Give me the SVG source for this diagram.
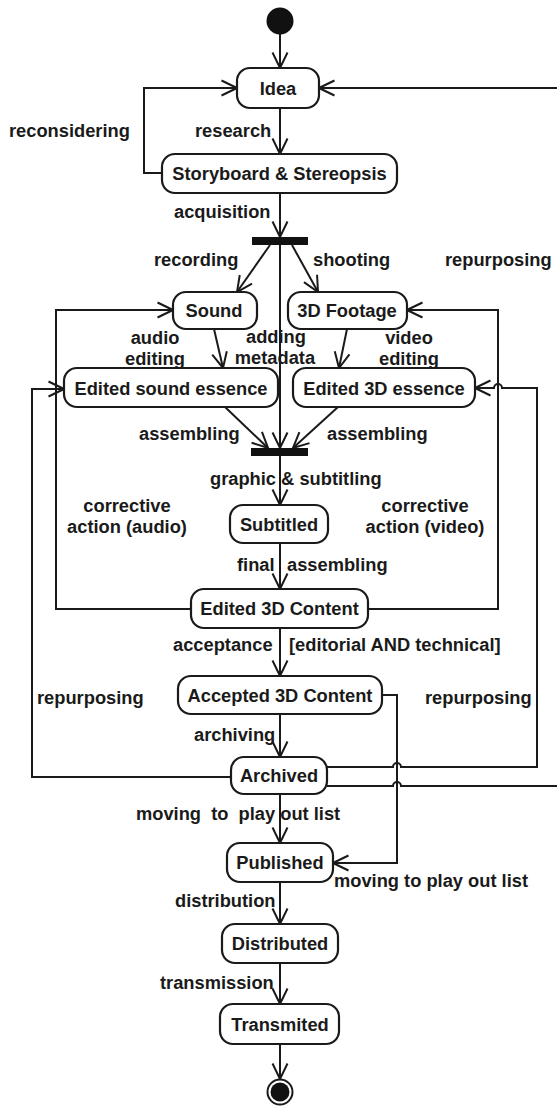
<svg xmlns="http://www.w3.org/2000/svg" width="557" height="1106" viewBox="0 0 557 1106">
  <style>
    .box { fill: #ffffff; stroke: #1a1a1a; stroke-width: 2.2; }
    .bar { fill: #111111; }
    .edge { fill: none; stroke: #1a1a1a; stroke-width: 2; marker-end: url(#open); }
    text { font-family: "Liberation Sans", Arial, sans-serif; font-weight: bold; font-size: 18.3px; fill: #1a1a1a; }
    .name { text-anchor: middle; }
    .mid { text-anchor: middle; }
    .pre { white-space: pre; }
  </style>
  <defs>
    <marker id="open" viewBox="0 0 18 18" refX="16.5" refY="9" markerWidth="18" markerHeight="18" markerUnits="userSpaceOnUse" orient="auto">
      <path d="M1,1.5 L16.5,9 L1,16.5" fill="none" stroke="#1a1a1a" stroke-width="2"/>
    </marker>
  </defs>
  <rect width="557" height="1106" fill="#ffffff"/>

  <!-- transitions -->
  <g id="connectors">
    <path class="edge" d="M280,34 V68"/>
    <path class="edge" d="M280,108 V154"/>
    <path class="edge" d="M162,173 H144 V88 H237"/>
    <path class="edge" d="M280,193 V237"/>
    <path class="edge" d="M270,245 L237,292"/>
    <path class="edge" d="M292,245 L318,292"/>
    <path class="edge" d="M280,245 V448"/>
    <path class="edge" d="M214,329 L223,368"/>
    <path class="edge" d="M347,329 L339,368"/>
    <path class="edge" d="M225,407 L268,448"/>
    <path class="edge" d="M338,407 L293,448"/>
    <path class="edge" d="M280,456 V505"/>
    <path class="edge" d="M280,543 V589"/>
    <path class="edge" d="M191,609 H56 V310 H173"/>
    <path class="edge" d="M368,609 H498 V310 H407"/>
    <path class="edge" d="M280,628 V676"/>
    <path class="edge" d="M280,714 V757"/>
    <path class="edge" d="M231,777 H32 V389 H64"/>
    <!-- line hops where these cross a vertical connector -->
    <path class="edge" d="M327,767 H393 A4,4 0 0 1 401,767 H537 V388 H502 A4,4 0 0 0 494,388 H475"/>
    <path class="edge" d="M327,786 H393 A4,4 0 0 1 401,786 H562 V88 H319"/>
    <path class="edge" d="M382,695 H397 V863 H333"/>
    <path class="edge" d="M280,794 V843"/>
    <path class="edge" d="M280,882 V924"/>
    <path class="edge" d="M280,963 V1004"/>
    <path class="edge" d="M280,1044 V1079"/>
  </g>

  <!-- pseudo-states -->
  <g id="start">
    <circle cx="280" cy="21" r="13.5" fill="#111111"/>
  </g>
  <g id="fork">
    <rect class="bar" x="252" y="237" width="56" height="8"/>
  </g>
  <g id="join">
    <rect class="bar" x="251" y="448" width="57" height="8"/>
  </g>
  <g id="end">
    <circle cx="280" cy="1092" r="12.5" fill="#ffffff" stroke="#1a1a1a" stroke-width="2"/>
    <circle cx="280" cy="1092" r="9.5" fill="#111111"/>
  </g>

  <!-- states -->
  <g id="idea">
    <rect class="box" x="237" y="68" width="82" height="40" rx="13"/>
    <text class="name" x="278" y="94.5">Idea</text>
  </g>
  <g id="storyboard">
    <rect class="box" x="162" y="154" width="235" height="39" rx="13"/>
    <text class="name" x="279.5" y="179.5">Storyboard &amp; Stereopsis</text>
  </g>
  <g id="sound">
    <rect class="box" x="173" y="292" width="84" height="37" rx="13"/>
    <text class="name" x="214" y="316.5">Sound</text>
  </g>
  <g id="footage">
    <rect class="box" x="288" y="292" width="119" height="37" rx="13"/>
    <text class="name" x="347" y="316.5">3D Footage</text>
  </g>
  <g id="edited-sound">
    <rect class="box" x="64" y="368" width="214" height="39" rx="13"/>
    <text class="name" x="171" y="394.5">Edited sound essence</text>
  </g>
  <g id="edited-3d-essence">
    <rect class="box" x="293" y="368" width="182" height="39" rx="13"/>
    <text class="name" x="384" y="394.5">Edited 3D essence</text>
  </g>
  <g id="subtitled">
    <rect class="box" x="230" y="505" width="98" height="38" rx="13"/>
    <text class="name" x="279" y="530.5">Subtitled</text>
  </g>
  <g id="edited-content">
    <rect class="box" x="191" y="589" width="177" height="39" rx="13"/>
    <text class="name" x="279.5" y="614.5">Edited 3D Content</text>
  </g>
  <g id="accepted">
    <rect class="box" x="178" y="676" width="204" height="38" rx="13"/>
    <text class="name" x="280" y="701.5">Accepted 3D Content</text>
  </g>
  <g id="archived">
    <rect class="box" x="231" y="757" width="96" height="37" rx="13"/>
    <text class="name" x="279" y="782">Archived</text>
  </g>
  <g id="published">
    <rect class="box" x="227" y="843" width="106" height="39" rx="13"/>
    <text class="name" x="280" y="868.5">Published</text>
  </g>
  <g id="distributed">
    <rect class="box" x="222" y="924" width="116" height="39" rx="13"/>
    <text class="name" x="280" y="950">Distributed</text>
  </g>
  <g id="transmited">
    <rect class="box" x="220" y="1004" width="119" height="40" rx="13"/>
    <text class="name" x="280" y="1030.5">Transmited</text>
  </g>

  <!-- transition labels -->
  <g id="labels">
    <text x="9" y="137">reconsidering</text>
    <text x="195" y="137">research</text>
    <text x="174" y="218">acquisition</text>
    <text x="154" y="266">recording</text>
    <text x="313" y="266">shooting</text>
    <text x="445" y="266">repurposing</text>
    <text class="mid" x="155" y="344">audio</text>
    <text class="mid" x="155" y="365">editing</text>
    <text class="mid" x="276" y="343">adding</text>
    <text class="mid" x="275" y="364">metadata</text>
    <text class="mid" x="409" y="344">video</text>
    <text class="mid" x="409" y="365">editing</text>
    <text x="139" y="440">assembling</text>
    <text x="327" y="440">assembling</text>
    <text x="210" y="485">graphic &amp; subtitling</text>
    <text class="mid" x="127" y="512">corrective</text>
    <text class="mid" x="127" y="533">action (audio)</text>
    <text class="mid" x="425" y="512">corrective</text>
    <text class="mid" x="425" y="533">action (video)</text>
    <text x="237" y="571">final</text>
    <text x="287" y="571">assembling</text>
    <text x="173" y="651">acceptance</text>
    <text x="289" y="651">[editorial AND technical]</text>
    <text x="37" y="704">repurposing</text>
    <text x="425" y="704">repurposing</text>
    <text x="194" y="741">archiving</text>
    <text class="pre" x="136" y="820">moving  to  play out list</text>
    <text x="334" y="887">moving to play out list</text>
    <text x="175" y="907">distribution</text>
    <text x="160" y="989">transmission</text>
  </g>
</svg>
